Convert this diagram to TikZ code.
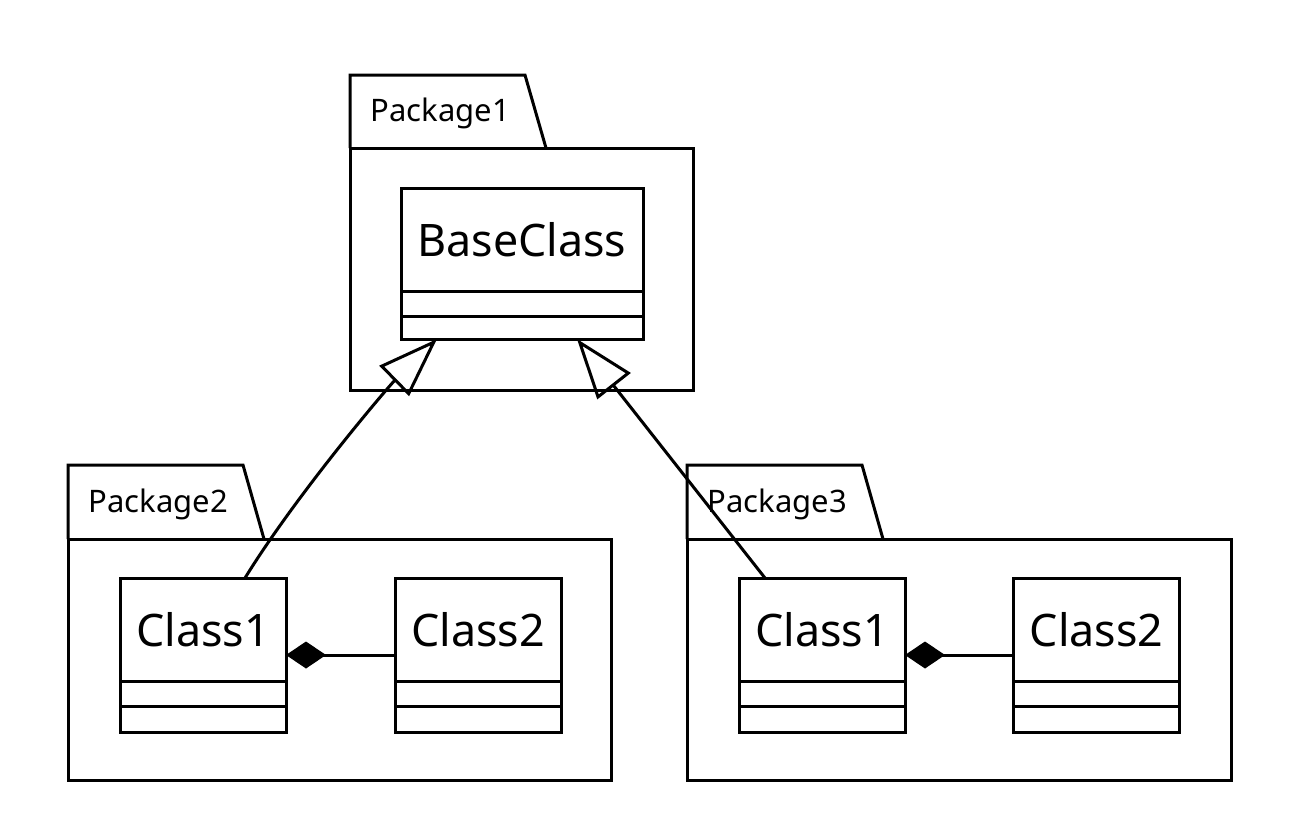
\documentclass[tikz,border=0pt]{standalone}
\usepackage{fontspec}
\setmainfont{Noto Sans}
\usetikzlibrary{arrows.meta,calc}
\tikzset{
  clsbox/.style={draw, inner sep=0pt, outer sep=0pt},
  clsname/.style={anchor=base, inner sep=0pt, font=\fontsize{44.8}{50}\selectfont},
  pkglabel/.style={anchor=base west, inner sep=0pt, font=\fontsize{31}{36}\selectfont},
  inh/.style={-{Triangle[open, length=60pt, width=42pt]}},
  comp/.style={{Diamond[length=40pt, width=27pt]}-},
}
% #1 name, #2 centre x, #3 top, #4 width, #5 height, #6 text
\newcommand\umlcls[6]{%
  \node[clsbox, minimum width=#4pt, minimum height=#5pt, anchor=north] (#1) at (#2,#3) {};
  \node[clsname] (#1-name) at ($(#1.north)+(0,68)$) {#6};
  \draw ($(#1.north west)+(0,103)$) -- ($(#1.north east)+(0,103)$);
  \draw ($(#1.north west)+(0,128)$) -- ($(#1.north east)+(0,128)$);
}
% #1 name, #2 left, #3 tab top, #4 body top, #5 right, #6 bottom, #7 label
\newcommand\umlpkg[7]{%
  \draw (#2,#4) rectangle (#5,#6);
  \draw (#2,#4) -- (#2,#3) -- (#2+175,#3) -- (#2+196,#4);
  \node[pkglabel] (#1) at (#2+19,#4-27) {#7};
}
\begin{document}
\begin{tikzpicture}[x=1pt, y=-1pt, line width=3pt, line join=miter]
  \fill[white] (0,0) rectangle (1296,815);
  \useasboundingbox (0,0) rectangle (1296,815);

  \umlpkg{p1}{350}{75}{148}{693}{390}{Package1}
  \umlpkg{p2}{68}{465}{539}{611}{780}{Package2}
  \umlpkg{p3}{687}{465}{539}{1231}{780}{Package3}

  \umlcls{base}{522}{188}{242}{151}{BaseClass}
  \umlcls{c1a}{203}{578}{166}{154}{Class1}
  \umlcls{c2a}{478}{578}{166}{154}{Class2}
  \umlcls{c1b}{822}{578}{166}{154}{Class1}
  \umlcls{c2b}{1096.5}{578}{166}{154}{Class2}

  \draw[comp] (c1a.east) -- (c2a.west);
  \draw[comp] (c1b.east) -- (c2b.west);

  \draw[inh] ($(c1a.north)+(42,0)$) .. controls (298,492) and (390,385) .. ($(base.south)+(-85,0)$);
  \draw[inh] ($(c1b.north)+(-57,0)$) -- ($(base.south)+(55,0)$);
\end{tikzpicture}
\end{document}
